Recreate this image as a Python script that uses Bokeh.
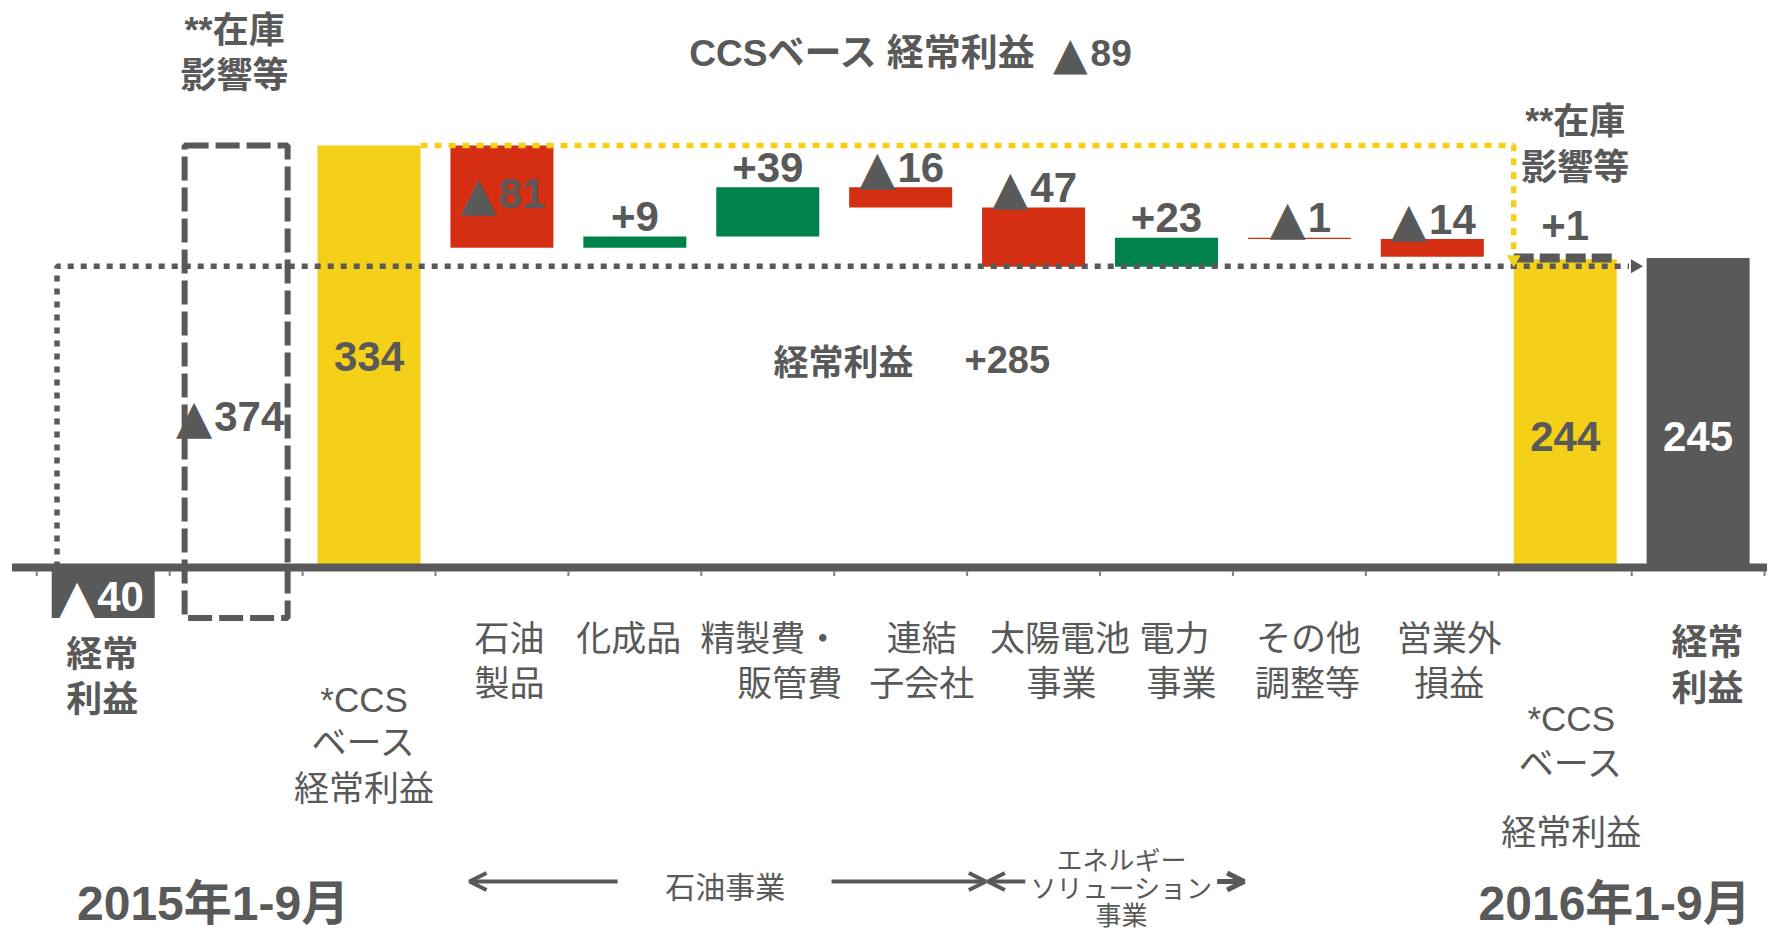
import numpy as np
from bokeh.plotting import figure
from bokeh.models import Range1d, Arrow, OpenHead, ColumnDataSource
from bokeh.core.properties import value
from bokeh.embed import file_html
from bokeh.resources import INLINE

# ---------------- data ----------------
start_label = "経常\n利益"
start_value = -40                      # 2015年1-9月 経常利益
inventory_label = "**在庫\n影響等"
inventory_2015 = -374                  # 在庫影響等 (2015)
ccs_label = "*CCS\nベース\n経常利益"
ccs_2015 = 334
change_labels = ["石油\n製品", "化成品", "精製費・\n販管費", "連結\n子会社",
                 "太陽電池\n事業", "電力\n事業", "その他\n調整等", "営業外\n損益"]
change_values = [-81, 9, 39, -16, -47, 23, -1, -14]
ccs_2016 = 244
inventory_2016 = 1
end_label = "経常\n利益"
end_value = 245                        # 2016年1-9月 経常利益
period_labels = ["2015年1-9月", "2016年1-9月"]
ccs_change_name = "CCSベース 経常利益"
ccs_change_value = -89
total_change_name = "経常利益"
group_labels = ["石油事業", "エネルギー\nソリューション\n事業"]

# ---------------- style / layout ----------------
GREY = "#595959"
TICK = "#7F7F7F"
YELLOW = "#F5D018"
RED = "#D42F13"
GREEN = "#00834A"
FONT_JP = "Noto Sans CJK JP"
FONT_NUM = "Liberation Sans"
FONT_MIX = "Liberation Sans, Noto Sans CJK JP"
FONT_TRI = "DejaVu Sans"
TRI_ADV = 0.77      # advance of ▲ in DejaVu Sans (em)
DIGIT_ADV = 0.556   # Liberation Sans Bold digit advance (em)
PLUS_ADV = 0.584
BAR_W = 0.775

n = len(change_values)
X_START, X_INV, X_CCS15 = 0, 1, 2
x_changes = np.arange(3, 3 + n)
X_CCS16 = 3 + n
X_END = 4 + n

p = figure(width=1767, height=934, x_range=Range1d(-0.7728, 12.522),
           y_range=Range1d(-290.5, 448.8), output_backend="svg",
           toolbar_location=None, min_border=0, x_axis_type=None, y_axis_type=None)
p.outline_line_color = None
p.grid.visible = False
p.background_fill_color = "white"
p.border_fill_color = "white"

# ---------------- bars ----------------
cum = ccs_2015 + np.cumsum(change_values)
prev = np.concatenate([[ccs_2015], cum[:-1]])
ch_bottom = np.minimum(prev, cum)
ch_top = np.maximum(prev, cum)
ch_color = [RED if v < 0 else GREEN for v in change_values]

bars = ColumnDataSource(dict(
    x=[X_START, X_CCS15] + list(x_changes) + [X_CCS16, X_END],
    bottom=[min(0, start_value), 0] + list(ch_bottom) + [0, 0],
    top=[max(0, start_value), ccs_2015] + list(ch_top) + [ccs_2016, end_value],
    color=[GREY, YELLOW] + ch_color + [YELLOW, GREY],
))
p.vbar(x="x", width=BAR_W, bottom="bottom", top="top", fill_color="color",
       line_color=None, source=bars)

# inventory 2015 (dashed outline)
p.vbar(x=[X_INV], width=BAR_W, bottom=[start_value], top=[start_value - inventory_2015],
       fill_color=None, line_color=GREY, line_width=6, line_dash="24 7")

# inventory 2016 (+1 dashed band)
p.segment(x0=[X_CCS16 - BAR_W / 2], x1=[X_CCS16 + BAR_W / 2],
          y0=[ccs_2016 + inventory_2016], y1=[ccs_2016 + inventory_2016],
          line_color=GREY, line_width=9, line_dash="20 6")

# ---------------- axis line & ticks ----------------
p.segment(x0=[-0.686], x1=[13.0], y0=[0], y1=[0], line_color=GREY, line_width=8)
bounds = np.arange(0, X_END + 2) - 0.5
p.segment(x0=bounds, x1=bounds, y0=[-3.0] * len(bounds), y1=[-6.8] * len(bounds),
          line_color=TICK, line_width=2)

# ---------------- connector lines ----------------
LINK_Y = 238.5
gx = X_START - BAR_W / 2 + 0.04
p.line(x=[gx, gx, 11.48], y=[0, LINK_Y, LINK_Y], line_color=GREY, line_width=5.5,
       line_dash="6 7")
p.scatter(x=[11.525], y=[LINK_Y], marker="triangle", angle=-np.pi / 2, size=14,
          fill_color=GREY, line_color=None)

yx0 = X_CCS15 + BAR_W / 2
yx1 = X_CCS16 - BAR_W / 2
p.line(x=[yx0, yx1, yx1], y=[ccs_2015, ccs_2015, ccs_2016 + 8], line_color=YELLOW,
       line_width=5.5, line_dash="7 7")
p.scatter(x=[yx1], y=[ccs_2016], marker="inverted_triangle", size=14,
          fill_color=YELLOW, line_color=None)

# ---------------- text helpers ----------------
def add_texts(xs, ys, texts, size, bold=False, color=GREY, font=FONT_JP,
              align="center", baseline="middle", dx=None, dy=None):
    k = len(texts)
    src = ColumnDataSource(dict(
        x=list(xs), y=list(ys), text=list(texts),
        dx=list(dx) if dx is not None else [0] * k,
        dy=list(dy) if dy is not None else [0] * k))
    p.text(x="x", y="y", text="text", x_offset="dx", y_offset="dy", source=src,
           text_font=value(font), text_font_size=value(size),
           text_font_style="bold" if bold else "normal", text_color=color,
           text_align=align, text_baseline=baseline)


def add_value_labels(xs, ys, vals, size=42, tri_size=47, color=GREY, dx=None, dy=None,
                     signed=True):
    """Centered labels: '▲n' for negatives (▲ drawn in DejaVu), '+n' for positives."""
    tri = dict(x=[], y=[], t=[], dx=[], dy=[])
    num = dict(x=[], y=[], t=[], dx=[], dy=[])
    for i, v in enumerate(vals):
        ox = dx[i] if dx is not None else 0
        oy = dy[i] if dy is not None else 0
        digits = str(abs(v))
        if signed and v < 0:
            tri_w = TRI_ADV * tri_size
            w = tri_w + DIGIT_ADV * size * len(digits)
            left = ox - w / 2
            for d, txt, off in ((tri, "▲", left), (num, digits, left + tri_w + 2)):
                d["x"].append(xs[i]); d["y"].append(ys[i]); d["t"].append(txt)
                d["dx"].append(off); d["dy"].append(oy)
        else:
            txt = ("+" if signed else "") + digits
            w = (PLUS_ADV * size if signed else 0) + DIGIT_ADV * size * len(digits)
            num["x"].append(xs[i]); num["y"].append(ys[i]); num["t"].append(txt)
            num["dx"].append(ox - w / 2); num["dy"].append(oy)
    if tri["t"]:
        add_texts(tri["x"], tri["y"], tri["t"], f"{tri_size}px", bold=True, color=color,
                  font=FONT_TRI, align="left", dx=tri["dx"], dy=tri["dy"])
    if num["t"]:
        add_texts(num["x"], num["y"], num["t"], f"{size}px", bold=True, color=color,
                  font=FONT_NUM, align="left", dx=num["dx"], dy=num["dy"])

# ---------------- value labels ----------------
inside = [True] + [False] * (n - 1)
add_value_labels(x_changes, ch_top, change_values,
                 dy=[48 if f else -20 for f in inside])
add_value_labels([X_CCS15, X_CCS16], [167.4, 103.7], [ccs_2015, ccs_2016], signed=False)
add_value_labels([X_END], [103.7], [end_value], color="white", signed=False)
add_value_labels([X_START], [start_value], [start_value], color="white",
                 dx=[-2.7], dy=[-22])
add_value_labels([X_INV], [119.5], [inventory_2015], dx=[-7])
add_value_labels([X_CCS16], [ccs_2016 + inventory_2016], [inventory_2016], dy=[-32])

# ---------------- category labels ----------------
ROW_Y = [-56.2, -91.8]
LABEL_DX = [[7.6, 7.6], [-6], [2.6, 22], [21, 21], [26.5, 28], [8, 15], [9, 8], [17, 17]]
xs, ys, ts, dxs = [], [], [], []
for i, lab in enumerate(change_labels):
    for j, line in enumerate(lab.split("\n")):
        xs.append(x_changes[i]); ys.append(ROW_Y[j]); ts.append(line)
        dxs.append(LABEL_DX[i][j])
ccs_lines = ccs_label.split("\n")
for line, yy in zip(ccs_lines, [-104.1, -138.9, -174.9]):
    xs.append(X_CCS15); ys.append(yy); ts.append(line); dxs.append(-5)
for line, yy in zip(ccs_lines, [-119.5, -155.1, -209.7]):
    xs.append(X_CCS16); ys.append(yy); ts.append(line); dxs.append(6)
add_texts(xs, ys, ts, "35px", font=FONT_MIX, dx=dxs)

bx, by, bt, bd = [], [], [], []
for line, yy in zip(start_label.split("\n"), [-68.9, -104.5]):
    bx.append(X_START); by.append(yy); bt.append(line); bd.append(-1)
for line, yy in zip(end_label.split("\n"), [-59.4, -95.4]):
    bx.append(X_END); by.append(yy); bt.append(line); bd.append(9.5)
for line, yy in zip(inventory_label.split("\n"), [425.0, 389.4]):
    bx.append(X_INV); by.append(yy); bt.append(line); bd.append(-1.5)
for line, yy in zip(inventory_label.split("\n"), [353.0, 316.8]):
    bx.append(X_CCS16); by.append(yy); bt.append(line); bd.append(10)
add_texts(bx, by, bt, "36px", bold=True, font=FONT_MIX, dx=bd)

# ---------------- headline annotations ----------------
TITLE_Y = 407.2
add_texts([6], [TITLE_Y], [ccs_change_name], "37px", bold=True, font=FONT_MIX,
          align="left", dx=[-211.4])
add_texts([6], [TITLE_Y], ["▲"], "45px", bold=True, font=FONT_TRI, align="left",
          dx=[152.4])
add_texts([6], [TITLE_Y], [str(abs(ccs_change_value))], "37px", bold=True,
          font=FONT_NUM, align="left", dx=[189.9])

MID_Y = 164.6
add_texts([5.044], [MID_Y], [total_change_name], "35px", bold=True, align="left")
add_texts([6.48], [MID_Y], ["+" + str(end_value - start_value)], "38px", bold=True,
          font=FONT_NUM, align="left")

# ---------------- period labels ----------------
add_texts([-0.197, 10.348], [-265.9, -265.9], period_labels, "48px", bold=True,
          font=FONT_MIX, align="left")

# ---------------- segment group annotations ----------------
ARROW_Y = -248.5
add_texts([4.68], [-251.7], [group_labels[0]], "30px")
add_texts([7.662] * 3, [-230.0, -252.5, -273.5], group_labels[1].split("\n"), "26px")
for xs_, xe_, lw in [(3.87, 2.756, 4), (5.48, 6.641, 4), (6.938, 6.656, 4), (8.381, 8.584, 5)]:
    p.add_layout(Arrow(end=OpenHead(size=17, line_color=GREY, line_width=lw),
                       x_start=xs_, y_start=ARROW_Y, x_end=xe_, y_end=ARROW_Y,
                       line_color=GREY, line_width=lw))

open("out.html", "w").write(file_html(p, INLINE))
